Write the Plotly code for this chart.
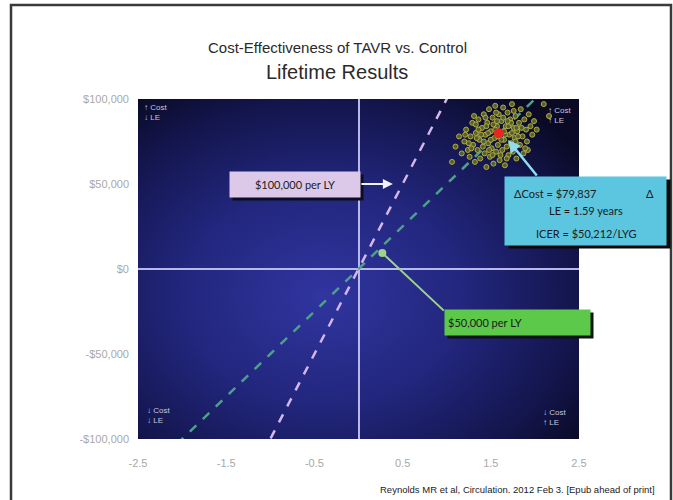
import base64
import plotly.graph_objects as go

# bootstrap replicates (life expectancy gain, cost difference)
le_boot = [1.10, 1.14, 1.17, 1.20, 1.22, 1.24, 1.26, 1.27, 1.29, 1.30,
           1.32, 1.33, 1.35, 1.36, 1.37, 1.38, 1.40, 1.41, 1.42, 1.43,
           1.44, 1.45, 1.46, 1.47, 1.48, 1.49, 1.50, 1.51, 1.52, 1.53,
           1.54, 1.55, 1.56, 1.57, 1.58, 1.59, 1.60, 1.61, 1.62, 1.63,
           1.64, 1.65, 1.66, 1.67, 1.68, 1.69, 1.70, 1.71, 1.72, 1.73,
           1.74, 1.75, 1.76, 1.77, 1.78, 1.79, 1.80, 1.82, 1.83, 1.84,
           1.86, 1.87, 1.88, 1.90, 1.91, 1.93, 1.95, 1.97, 1.99, 2.02,
           1.25, 1.34, 1.39, 1.45, 1.50, 1.55, 1.58, 1.62, 1.66, 1.70,
           1.74, 1.78, 1.52, 1.64, 1.42, 1.85, 1.56, 1.68, 1.47, 1.73,
           2.10, 1.06, 2.16, 1.31, 1.92, 1.21, 1.28, 1.36, 1.44, 1.53,
           1.61, 1.69, 1.76, 1.81, 1.89, 1.33, 1.48, 1.57, 1.65, 1.79]
cost_boot = [72000, 78000, 68000, 75000, 82000, 70000, 66000, 78000, 86000, 73000,
             63000, 80000, 70000, 88000, 76000, 65000, 83000, 72000, 91000, 68000,
             79000, 60000, 86000, 74000, 94000, 66000, 81000, 71000, 89000, 62000,
             77000, 96000, 69000, 84000, 73000, 91000, 64000, 80000, 87000, 70000,
             95000, 76000, 61000, 84000, 72000, 92000, 67000, 79000, 88000, 74000,
             97000, 69000, 83000, 77000, 90000, 65000, 81000, 86000, 73000, 94000,
             78000, 68000, 88000, 82000, 75000, 91000, 84000, 79000, 87000, 82000,
             74000, 77000, 79000, 84000, 76000, 82000, 78000, 76000, 79000, 84000,
             80000, 75000, 67000, 89000, 75000, 83000, 92000, 65000, 80000, 86000,
             97000, 63000, 90000, 90000, 70000, 79000, 71000, 82000, 89000, 85000,
             67000, 87000, 93000, 78000, 71000, 85000, 70000, 87000, 81000, 83000]

delta_le = 1.59
delta_cost = 79837
icer = 50212

wtp_values = [100000, 50000]
wtp_names = ["$100,000 per LY", "$50,000 per LY"]

x_ticks = [-2.5, -1.5, -0.5, 0.5, 1.5, 2.5]
x_ticktext = ["-2.5", "-1.5", "-0.5", "0.5", "1.5", "2.5"]
y_ticks = [100000, 50000, 0, -50000, -100000]
y_ticktext = ["$100,000", "$50,000", "$0", "-$50,000", "-$100,000"]

x_range = [-2.5, 2.5]
y_range = [-100000, 100000]

# plot area on the page: x 138..579, y 99..439 px
def px(x):
    return (x - 138) / 441

def py(y):
    return (439 - y) / 340

fig = go.Figure()

# willingness-to-pay threshold lines through the origin
wtp_colors = ["#d4b6ea", "#4fa08a"]
for w, c, n in zip(wtp_values, wtp_colors, wtp_names):
    fig.add_trace(go.Scatter(x=x_range, y=[w * x_range[0], w * x_range[1]], mode="lines",
                             line=dict(color=c, width=2.5, dash="dash"), name=n,
                             hoverinfo="skip"))

fig.add_trace(go.Scatter(x=le_boot, y=cost_boot, mode="markers",
                         marker=dict(size=5, color="#55622a", line=dict(color="#b3ab44", width=1)),
                         name="bootstrap"))
fig.add_trace(go.Scatter(x=[delta_le], y=[delta_cost], mode="markers",
                         marker=dict(size=10, color="#e8261f"), name="mean"))

# radial gradient background for plot area
svg = ("<svg xmlns='http://www.w3.org/2000/svg' width='441' height='340' viewBox='0 0 441 340' "
       "preserveAspectRatio='none'><defs><radialGradient id='g' cx='0.42' cy='0.58' r='0.72'>"
       "<stop offset='0' stop-color='#3035a0'/><stop offset='0.45' stop-color='#22267c'/>"
       "<stop offset='0.8' stop-color='#13154c'/><stop offset='1' stop-color='#0a0a26'/>"
       "</radialGradient></defs><rect width='441' height='340' fill='url(#g)'/></svg>")
src = "data:image/svg+xml;base64," + base64.b64encode(svg.encode()).decode()

anns = []
font_box = "Lato, 'Liberation Sans', sans-serif"


def box(cx, cy, w, h, text, bg, shadow, font=None, align="center", sx=3, sy=-3):
    anns.append(dict(xref="paper", yref="paper", x=px(cx), y=py(cy), xanchor="center", yanchor="middle",
                     text=" ", showarrow=False, width=w, height=h, borderpad=3, bgcolor=shadow,
                     xshift=sx, yshift=sy))
    anns.append(dict(xref="paper", yref="paper", x=px(cx), y=py(cy), xanchor="center", yanchor="middle",
                     text=text, showarrow=False, width=w, height=h, borderpad=3, bgcolor=bg,
                     align=align, font=font))


def label(x, y, text, font, xanchor="center", yanchor="middle", align="center"):
    anns.append(dict(xref="paper", yref="paper", x=px(x), y=py(y), xanchor=xanchor, yanchor=yanchor,
                     text=text, showarrow=False, align=align, font=font))


# $100,000 box with white arrow
box(295, 184, 124, 19, wtp_names[0], "#dcc8e8", "#0c0c22",
    font=dict(family=font_box, size=11, color="#222"))
anns.append(dict(x=0.39, y=50000, text="", showarrow=True, axref="pixel", ayref="pixel",
                 ax=-33, ay=0, arrowhead=2, arrowsize=1, arrowwidth=2, arrowcolor="#f2f2ff"))

# $50,000 box with green arrow
anns.append(dict(x=0.27, y=9400, text="", showarrow=True, axref="pixel", ayref="pixel",
                 ax=63, ay=59, arrowhead=6, arrowsize=1, arrowwidth=2, arrowcolor="#9ed488"))
box(517.5, 322.5, 139, 19, wtp_names[1], "#5cc94a", "#0c160c",
    font=dict(family=font_box, size=11, color="#1a1a1a"), align="left")

# result box with cyan arrow
anns.append(dict(x=1.695, y=75900, text="", showarrow=True, axref="pixel", ayref="pixel",
                 ax=30, ay=37, arrowhead=2, arrowsize=1, arrowwidth=2.5, arrowcolor="#8fdcec"))
box(585.5, 211, 155, 62, " ", "#5cc6e0", "#0a0a0a", sx=4)
res_font = dict(family=font_box, size=11, color="#1a1a1a")
label(512, 193, "\u0394Cost = ${:,}".format(delta_cost), res_font, xanchor="left")
label(650, 193, "\u0394", res_font)
label(586, 210, "LE = {} years".format(delta_le), res_font)
label(586, 233, "ICER = ${:,}/LYG".format(icer), res_font)

# quadrant labels
quad_font = dict(family="Liberation Sans", size=8, color="#c8c8dc")
for xq, yq, t in [(142, 101, "\u2191 Cost<br>\u2193 LE"), (546, 104, "\u2191 Cost<br>\u2191 LE"),
                  (145, 404, "\u2193 Cost<br>\u2193 LE"), (541, 406, "\u2193 Cost<br>\u2191 LE")]:
    label(xq, yq, t, quad_font, xanchor="left", yanchor="top", align="left")

# titles and citation
label(337, 47, "Cost-Effectiveness of TAVR vs. Control",
      dict(family="Liberation Sans", size=15, color="#2a2a2a"))
label(337, 72, "Lifetime Results", dict(family="Liberation Sans", size=20, color="#2a2a2a"))
label(657, 490, "Reynolds MR et al, Circulation. 2012 Feb 3. [Epub ahead of print]",
      dict(family="Liberation Sans", size=9.5, color="#222"), xanchor="right")

axis_font = dict(family="Liberation Sans", size=11, color="#a8a8a8")
fig.update_layout(
    width=673, height=500,
    margin=dict(l=138, r=94, t=99, b=61),
    paper_bgcolor="white", plot_bgcolor="#1a1c5e",
    showlegend=False,
    annotations=anns,
    images=[dict(source=src, xref="paper", yref="paper", x=0, y=1, sizex=1, sizey=1,
                 sizing="stretch", layer="below", xanchor="left", yanchor="top")],
    shapes=[dict(type="rect", xref="paper", yref="paper", x0=px(11), x1=px(671), y0=py(530), y1=py(5),
                 line=dict(color="#3a3a3a", width=2.5), layer="above")],
    xaxis=dict(range=x_range, tickvals=x_ticks, ticktext=x_ticktext, showgrid=False,
               zeroline=True, zerolinecolor="#b8b8ea", zerolinewidth=1.5, tickfont=axis_font,
               ticklabelstandoff=16, showline=False, fixedrange=True),
    yaxis=dict(range=y_range, tickvals=y_ticks, ticktext=y_ticktext, showgrid=False,
               zeroline=True, zerolinecolor="#b8b8ea", zerolinewidth=1.5, tickfont=axis_font,
               ticklabelstandoff=8, showline=False, fixedrange=True),
)

# drop the default page margin so the figure sits at the window origin
fig.write_html("out.html", config={"displayModeBar": False},
               post_script="document.body.style.margin='0';document.body.style.overflow='hidden';")
